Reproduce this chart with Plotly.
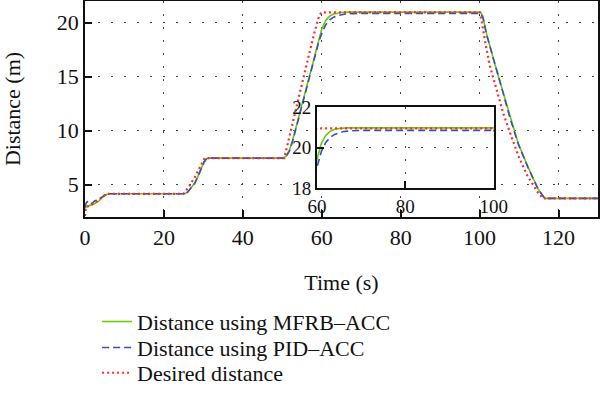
import plotly.graph_objects as go

# ---- data ----
t_desired = [0, 0.2, 1.5, 3.0, 4.5, 5.5, 25.0, 26.5, 28.0, 29.3, 30.3, 50.5, 51.8, 53.0, 54.3, 55.6,
             56.8, 58.1, 59.3, 59.9, 100.0, 100.6, 101.4, 102.6, 104.2, 106.0, 108.0, 110.0, 112.0,
             114.5, 116.0, 130.0]
d_desired = [2.1, 2.9, 3.1, 3.45, 3.9, 4.15, 4.15, 4.9, 5.8, 6.8, 7.45, 7.45, 9.5, 11.4, 13.4, 15.3,
             17.1, 19.0, 20.6, 20.95, 20.95, 20.0, 18.2, 16.0, 13.9, 11.6, 9.5, 7.5, 5.9,
             4.4, 3.72, 3.72]

t_mfrb = [0, 0.5, 1.5, 2.5, 3.5, 4.5, 5.5, 6.3, 25.3, 26.0, 27.0, 27.8, 28.7, 29.5, 30.2, 30.8, 31.5,
          50.0, 50.9, 51.8, 52.6, 53.9, 55.6, 57.2, 58.5, 59.3, 60.0, 61.0, 62.0, 63.0, 64.0, 65.0,
          67.0, 100.2, 100.8, 101.8, 103.9, 105.6, 107.7, 109.8, 112.3, 114.8, 116.5, 130.0]
d_mfrb = [2.8, 3.0, 3.1, 3.25, 3.5, 3.85, 4.1, 4.15, 4.15, 4.3, 4.75, 5.15, 5.85, 6.6, 7.15, 7.4, 7.45,
          7.45, 7.6, 8.2, 9.1, 10.9, 13.3, 15.6, 17.5, 18.6, 19.4, 20.2, 20.6, 20.8, 20.9, 20.94,
          20.97, 20.97, 20.6, 18.9, 16.1, 14.0, 11.2, 8.8, 6.6, 4.6, 3.72, 3.72]

t_pid = [0, 0.3, 0.8, 1.7, 2.5, 3.5, 4.5, 5.5, 6.3, 25.3, 26.0, 27.0, 27.8, 28.7, 29.5, 30.2, 30.8, 31.5,
         50.0, 50.9, 51.8, 52.6, 53.9, 55.6, 57.2, 58.5, 59.3, 60.0, 61.0, 62.0, 63.0, 64.0, 65.0,
         66.0, 68.0, 70.0, 100.2, 100.8, 101.8, 103.9, 105.6, 107.7, 109.8, 112.3, 114.8, 116.5, 130.0]
d_pid = [2.9, 3.3, 3.5, 3.25, 3.5, 3.6, 3.9, 4.1, 4.15, 4.15, 4.3, 4.75, 5.1, 5.8, 6.55, 7.1, 7.4, 7.45,
         7.45, 7.55, 8.1, 9.0, 10.8, 13.2, 15.5, 17.3, 18.3, 19.0, 19.8, 20.25, 20.5, 20.65, 20.74,
         20.79, 20.83, 20.85, 20.85, 20.5, 18.85, 16.0, 13.95, 11.15, 8.75, 6.55, 4.6, 3.72, 3.72]

main_xticks = [0, 20, 40, 60, 80, 100, 120]
main_yticks = [5, 10, 15, 20]
inset_xticks = [60, 80, 100]
inset_yticks = [18, 20, 22]

names = ["Distance using MFRB\u2013ACC", "Distance using PID\u2013ACC", "Desired distance"]

GREEN = "#66cc00"
BLUE = "#3a4cc4"
RED = "#ff2a2a"
FONT = "Liberation Serif"

styles = [
    dict(color=GREEN, width=1.6, dash="solid"),
    dict(color=BLUE, width=1.6, dash="7px,4px"),
    dict(color=RED, width=2.2, dash="2px,3px"),
]
series = [(t_mfrb, d_mfrb), (t_pid, d_pid), (t_desired, d_desired)]
legends = ["legend", "legend2", "legend3"]

fig = go.Figure()
for (tx, dy), nm, st, lg in zip(series, names, styles, legends):
    fig.add_trace(go.Scatter(x=tx, y=dy, mode="lines", name=nm, line=st, legend=lg,
                             xaxis="x", yaxis="y"))
for (tx, dy), nm, st in zip(series, names, styles):
    fig.add_trace(go.Scatter(x=tx, y=dy, mode="lines", name=nm, line=st, showlegend=False,
                             xaxis="x2", yaxis="y2"))

grid = dict(showgrid=True, gridcolor="#444", gridwidth=1, griddash="2px,11px")
axis_common = dict(showline=True, linecolor="#111", linewidth=1.5, mirror=True,
                   ticks="inside", ticklen=7, tickwidth=1.5, tickcolor="#111",
                   zeroline=False, automargin=False, tickangle=0, **grid)

fig.update_layout(
    width=600, height=398,
    margin=dict(l=85, r=2, t=1, b=181, autoexpand=False),
    paper_bgcolor="white", plot_bgcolor="white",
    font=dict(family=FONT, color="#111"),
    xaxis=dict(domain=[0, 1], range=[0, 130], tickvals=main_xticks,
               tickfont=dict(size=22), ticklabelstandoff=0,
               title=dict(text="Time (s)", font=dict(size=22), standoff=25),
               anchor="y", **axis_common),
    yaxis=dict(domain=[0, 1], range=[2, 22], tickvals=main_yticks,
               tickfont=dict(size=22), ticklabelstandoff=0,
               title=dict(text="Distance (m)", font=dict(size=22), standoff=37),
               anchor="x", **axis_common),
    xaxis2=dict(domain=[0.452, 0.797], range=[60, 100], tickvals=inset_xticks,
                tickfont=dict(size=19), ticklabelstandoff=0, anchor="y2", **axis_common),
    yaxis2=dict(domain=[0.134, 0.509], range=[18, 22], tickvals=inset_yticks,
                tickfont=dict(size=19), ticklabelstandoff=0, anchor="x2", **axis_common),
    showlegend=True,
)

leg_common = dict(xanchor="left", yanchor="middle",
                  bgcolor="rgba(0,0,0,0)", font=dict(size=22, family=FONT, color="#111"))
fig.update_layout(
    legend=dict(x=0.0236, y=-0.485, **leg_common),
    legend2=dict(x=0.0236, y=-0.605, **leg_common),
    legend3=dict(x=0.0236, y=-0.722, **leg_common),
)

fig.write_html("out.html", config={"displayModeBar": False},
               post_script="document.body.style.margin='0';")
